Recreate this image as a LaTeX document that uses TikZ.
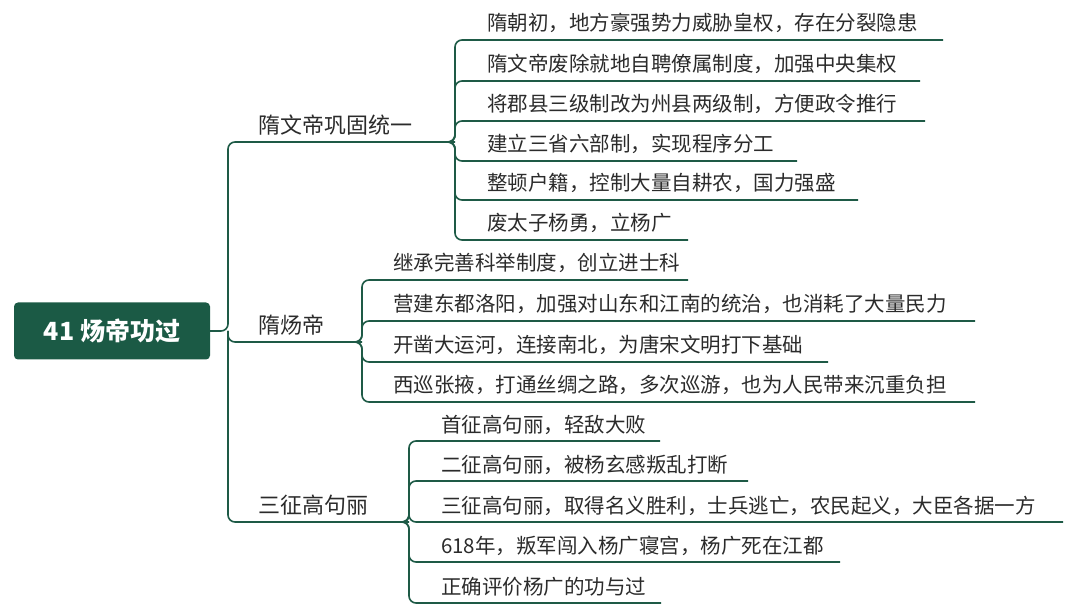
\documentclass[tikz,border=0pt]{standalone}
\usepackage{fontspec}
\setmainfont{Noto Sans CJK SC}
\begin{document}
\begin{tikzpicture}[x=1pt,y=-1pt,
  ln/.style={draw=lc,line width=1.6pt,rounded corners=7pt},
  leaf/.style={anchor=base west,inner sep=0pt,text=tc,font=\fontsize{20.5}{24}\selectfont},
  br/.style={anchor=base west,inner sep=0pt,text=tc,font=\fontsize{22}{26}\selectfont}]
\definecolor{lc}{HTML}{1E5A46}
\definecolor{tc}{HTML}{2B2B2B}
\definecolor{rc}{HTML}{1B5A45}
\useasboundingbox (0,0) rectangle (1080,612);
\node[fill=rc,rounded corners=4pt,minimum width=196pt,minimum height=57pt,text=white,font=\fontsize{25}{28}\selectfont\bfseries] (root) at (112,331) {41 炀帝功过};
\coordinate (t) at (228,331);
% branches
\node[br] (b1) at (258,134) {隋文帝巩固统一};
\node[br] (b2) at (258,334) {隋炀帝};
\node[br] (b3) at (258,514) {三征高句丽};
\draw[ln] (root.east) -- (t) |- (455,142);
\draw[ln] (t) |- (362,342);
\draw[ln] (t) |- (409,522);
% branch 1 leaves
\foreach \y/\e/\txt in {40/943/隋朝初，地方豪强势力威胁皇权，存在分裂隐患,
  81/920/隋文帝废除就地自聘僚属制度，加强中央集权,
  121/925/将郡县三级制改为州县两级制，方便政令推行,
  161/797/建立三省六部制，实现程序分工,
  200/858/整顿户籍，控制大量自耕农，国力强盛,
  240/688/废太子杨勇，立杨广}{
  \node[leaf] at (487,\y-9) {\txt};
  \draw[ln] (449,142) -| (455,\y) -- (\e,\y);
}
% branch 2 leaves
\foreach \y/\e/\txt in {280/688/继承完善科举制度，创立进士科,
  321/975/营建东都洛阳，加强对山东和江南的统治，也消耗了大量民力,
  362/828/开凿大运河，连接南北，为唐宋文明打下基础,
  402/975/西巡张掖，打通丝绸之路，多次巡游，也为人民带来沉重负担}{
  \node[leaf] at (393,\y-9) {\txt};
  \draw[ln] (356,342) -| (362,\y) -- (\e,\y);
}
% branch 3 leaves
\foreach \y/\e/\txt in {441/660/首征高句丽，轻敌大败,
  481/748/二征高句丽，被杨玄感叛乱打断,
  522/1063/三征高句丽，取得名义胜利，士兵逃亡，农民起义，大臣各据一方,
  562/840/618年，叛军闯入杨广寝宫，杨广死在江都,
  603/661/正确评价杨广的功与过}{
  \node[leaf] at (441,\y-9) {\txt};
  \draw[ln] (403,522) -| (409,\y) -- (\e,\y);
}
\end{tikzpicture}
\end{document}
